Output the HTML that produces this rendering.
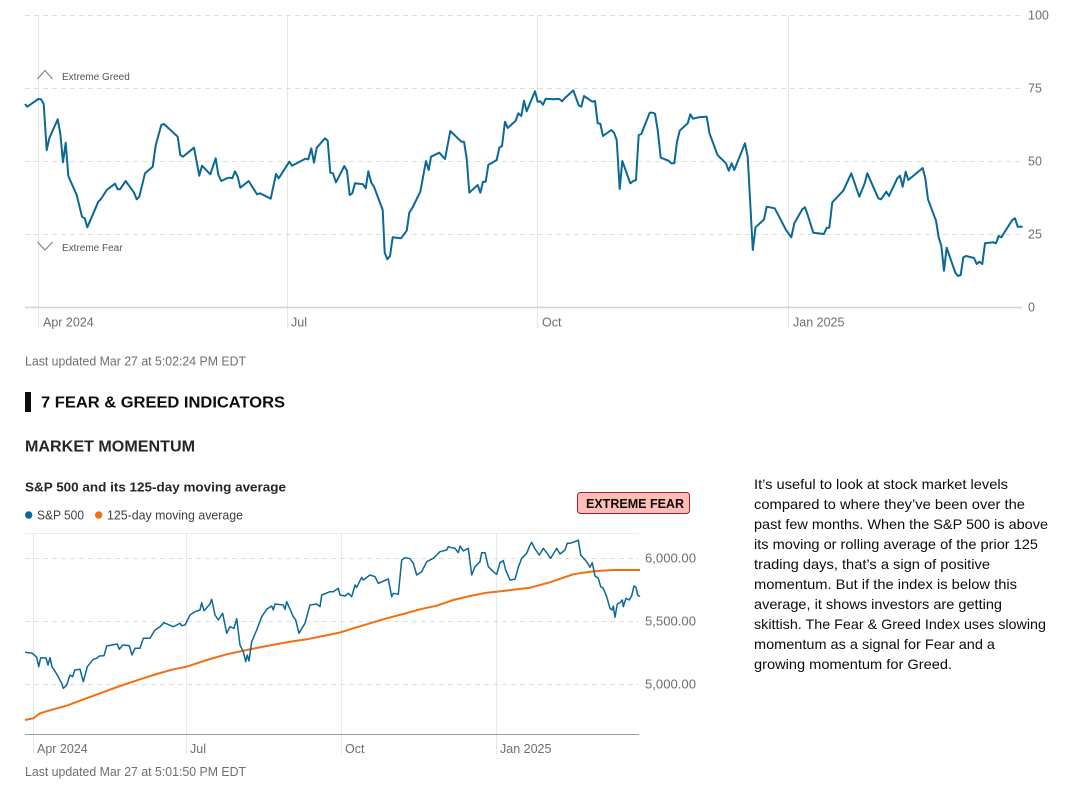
<!DOCTYPE html>
<html><head><meta charset="utf-8"><style>
html,body{margin:0;padding:0;background:#fff;}
body{width:1084px;height:798px;overflow:hidden;}
svg{display:block;font-family:"Liberation Sans",Arial,sans-serif;}
</style></head><body>
<svg width="1084" height="798" viewBox="0 0 1084 798" xmlns="http://www.w3.org/2000/svg">
<!-- TOP CHART -->
<g stroke="#e6e6e6" stroke-width="1" fill="none">
<line x1="38.5" y1="15" x2="38.5" y2="328"/>
<line x1="287.5" y1="15" x2="287.5" y2="328"/>
<line x1="537.5" y1="15" x2="537.5" y2="328"/>
<line x1="788.5" y1="15" x2="788.5" y2="328"/>
</g>
<g stroke="#dedede" stroke-width="1" stroke-dasharray="5,4" fill="none">
<line x1="25" y1="15.5" x2="1022" y2="15.5"/>
<line x1="25" y1="88.5" x2="1022" y2="88.5"/>
<line x1="25" y1="161.5" x2="1022" y2="161.5"/>
<line x1="25" y1="234.5" x2="1022" y2="234.5"/>
</g>
<line x1="25" y1="307.5" x2="1022" y2="307.5" stroke="#d2d2d2" stroke-width="1.5"/>
<g fill="#6e6e6e" font-size="12.5">
<text x="1028" y="19.5">100</text>
<text x="1028" y="92.5">75</text>
<text x="1028" y="165.5">50</text>
<text x="1028" y="238.5">25</text>
<text x="1028" y="311.5">0</text>
<text x="43" y="326.5">Apr 2024</text>
<text x="291" y="326.5">Jul</text>
<text x="542" y="326.5">Oct</text>
<text x="793" y="326.5">Jan 2025</text>
</g>
<polyline points="37.5,79 45,70.5 52.5,79" fill="none" stroke="#7a7a7a" stroke-width="1"/>
<polyline points="37.5,242 45,250 52.5,242" fill="none" stroke="#7a7a7a" stroke-width="1"/>
<text x="62" y="80" font-size="10" fill="#555">Extreme Greed</text>
<text x="62" y="251" font-size="10" fill="#555">Extreme Fear</text>
<polyline fill="none" stroke="#0b6897" stroke-width="2" stroke-linejoin="round" points="25,104 27.3,106.7 38.3,99 41,99.3 43.7,104 46.7,150 49.3,138.3 57.7,119.3 60.3,133.3 63,162.3 65.7,142.7 68.3,176 76.7,195 82,216.7 84.7,218.3 87.3,227.3 98.3,201.7 101,199 106.7,190 115,183.7 117.7,189.3 120,189.3 125.7,181 134,192.7 136.7,199.3 139.3,196.7 145,173.3 152.7,166.7 155.7,145.3 161.3,125 164,124 177.7,136.7 180.3,155 183,156.7 194,147.7 199.3,175.7 202,165.7 210.3,174.3 215.7,158.3 218.3,174.7 221.3,181 226.7,178.3 230,177.7 232.3,178.3 235,171.3 237.7,176.7 240.3,187.7 248.7,181 257,194.3 260,193.3 270.7,198.7 276,174 278.7,178.3 289.3,161.7 292,165.7 297.7,162.7 305.3,158.7 308.3,159.3 311.3,148.3 314,162.7 316.7,147.7 325,138.3 327.7,140.7 330.3,172.7 333,173.3 336,182.3 344.3,166 347,170.7 349.7,195 352.3,193.3 355,183.3 363,184.3 365.7,188.3 368.3,171.3 371.3,182.7 374,186.7 382.7,210 384.7,252.7 387.3,259.3 390,256 392.7,237.3 401,238.3 406.7,230.7 409.3,212.7 412.3,208 420.3,191.7 426,161 428.7,170 431,156.7 439.3,152.7 445,159 450.3,131 461.3,141.7 464,141.7 466.7,158.3 469.3,192.7 477.7,185 480.3,192.7 483,181.7 485.7,181.7 488.3,165 496.7,160 499.3,147.7 502,146 505,121.7 507.7,128 515.7,120.7 518.3,113.3 521.3,116 524,100.7 526.7,111.3 535,91.3 537.7,101.7 540.3,101.3 543,104.7 545.7,98.7 554,99.3 556.7,99 559.3,99 562,101.3 565,98 573.3,90.3 578.7,105.3 581.3,106.7 584,96 592.3,101.7 595,101 597.7,123.3 600.3,123.7 603,136 611.3,130 614,132.7 616.7,140 619.7,189 622.3,161 630.3,183.3 633.3,181 636,180 638.7,135 641.3,134 649.7,112.7 652.3,112.7 655,113.7 657.7,130 660.7,157.7 668.7,160.7 671.3,163.3 674.3,163.3 677,141.7 679.7,130.7 687.7,123.3 690.3,114.3 693,118.7 698.7,117.3 706.7,116.7 709.5,133.3 717.5,155 726,163.3 728.7,170.7 731.7,163.3 734.3,170 745,143.3 747.7,156.7 752.8,250 755.5,227.3 764,219.5 766.7,206.7 774.7,208.3 780,218.3 786,230 791.3,237.3 794.3,223.3 802.3,209.3 805,207.3 807.7,215 813.3,232.7 824,234 826.7,227.7 829.3,227.7 832.3,202.3 843.3,190.7 851.3,173.3 859.3,196.7 864.7,183.3 867.3,173.3 878.3,198.3 881,199.3 886.3,191.7 889,196 897.3,178.3 900,175.7 902.7,186.7 905.7,171.7 908.3,180 922.7,168 925.3,178.3 928,199.3 936,220.7 938.7,237.3 941.3,245.7 944,270.7 946.7,247.7 955.3,272.7 958,276 960.7,275 963.3,257.3 966,256 974,258 976.7,264 979.3,261.7 982.3,264 985,243.3 993.3,242.3 996,243.3 998.7,236 1001.3,237.3 1012.3,220 1015,218.3 1017.7,226.7 1022.7,226.7"/>

<!-- TEXT SECTION -->
<text x="25" y="365.5" font-size="12.5" fill="#6e6e6e" textLength="221" lengthAdjust="spacingAndGlyphs">Last updated Mar 27 at 5:02:24 PM EDT</text>
<rect x="25" y="392" width="6" height="20" fill="#0c0c0c"/>
<text x="41" y="407.5" font-size="16" font-weight="bold" fill="#0c0c0c" textLength="244" lengthAdjust="spacingAndGlyphs">7 FEAR &amp; GREED INDICATORS</text>
<text x="25" y="451.3" font-size="15.5" font-weight="bold" fill="#262626" textLength="170" lengthAdjust="spacingAndGlyphs">MARKET MOMENTUM</text>
<text x="25" y="491.5" font-size="13" font-weight="bold" fill="#262626" textLength="261" lengthAdjust="spacingAndGlyphs">S&amp;P 500 and its 125-day moving average</text>
<circle cx="28.7" cy="515" r="3.7" fill="#0b6897"/>
<text x="37" y="519.5" font-size="13" fill="#404040" textLength="47" lengthAdjust="spacingAndGlyphs">S&amp;P 500</text>
<circle cx="98.7" cy="515" r="3.7" fill="#f2700f"/>
<text x="107" y="519.5" font-size="13" fill="#404040" textLength="136" lengthAdjust="spacingAndGlyphs">125-day moving average</text>
<rect x="577.5" y="492.5" width="112" height="21" rx="3" fill="#ffbdb4" stroke="#a8173a" stroke-width="1"/>
<text x="586" y="508" font-size="13" font-weight="bold" fill="#0c0c0c" textLength="98" lengthAdjust="spacingAndGlyphs">EXTREME FEAR</text>

<!-- BOTTOM CHART -->
<g stroke="#e8e8e8" stroke-width="1" fill="none">
<line x1="33.5" y1="533" x2="33.5" y2="754"/>
<line x1="186.5" y1="533" x2="186.5" y2="754"/>
<line x1="341.5" y1="533" x2="341.5" y2="754"/>
<line x1="496.5" y1="533" x2="496.5" y2="754"/>
</g>
<line x1="25" y1="533.5" x2="639" y2="533.5" stroke="#ececec" stroke-width="1"/>
<g stroke="#dedede" stroke-width="1" stroke-dasharray="5,4" fill="none">
<line x1="25" y1="558.5" x2="639" y2="558.5"/>
<line x1="25" y1="621.5" x2="639" y2="621.5"/>
<line x1="25" y1="684.5" x2="639" y2="684.5"/>
</g>
<line x1="25" y1="734.5" x2="639" y2="734.5" stroke="#9a9a9a" stroke-width="1"/>
<g fill="#6e6e6e" font-size="12.5">
<text x="645" y="562.5" textLength="51" lengthAdjust="spacingAndGlyphs">6,000.00</text>
<text x="645" y="625.5" textLength="51" lengthAdjust="spacingAndGlyphs">5,500.00</text>
<text x="645" y="688.5" textLength="51" lengthAdjust="spacingAndGlyphs">5,000.00</text>
<text x="37" y="753">Apr 2024</text>
<text x="190" y="753">Jul</text>
<text x="345" y="753">Oct</text>
<text x="500" y="753">Jan 2025</text>
</g>
<polyline fill="none" stroke="#f2700f" stroke-width="2" stroke-linejoin="round" points="25,720 33.3,718.3 40,713.3 53.3,709.3 66.7,705.7 80,700.7 100,693.3 120,686 140,679.3 156.7,674 173.3,669.3 186.7,666.7 206.7,660 226.7,654.3 246.7,650 266.7,646 286.7,642.3 306.7,639.3 323.3,636 340,632.5 353.3,628.3 370,623.3 386.7,618.3 403.3,614 420,609.3 436.7,605.7 453.3,600 470,596 486.7,592.7 503.3,591 530,587.7 550,582.3 563.3,577.7 573.3,574.3 583.3,572.7 596.7,571 613.3,570 640,570"/>
<polyline fill="none" stroke="#0b6897" stroke-width="1.5" stroke-linejoin="round" points="25,652.3 32.3,653.3 34.3,655 36.7,657.3 38.7,666.7 40.7,657.7 46,658 48,665 50,657.7 52,666.7 56.7,674 61.7,683.3 63.3,688.3 66.7,685 70,675 72.7,676.7 74.7,670 80,669.3 83.3,681.7 87.3,666.7 93.3,659.3 96.7,658.3 99.3,656 104,655.7 106.7,646 111.7,645 117.3,644 119.3,649.3 122.7,645 129.3,645.7 132,655 135,648.3 140,648.3 143.3,638.3 150,638.3 155,630 160,626.7 164,622.7 173.3,626.7 176.7,625 180,623.3 181.7,625.7 185,625 190,615 195,611.7 200,610 201.7,602.7 204,610.7 210,604 211.7,599.3 215,615 218.3,620 222.7,613.3 226.7,633.3 230,626.7 234,628.3 236.7,618.7 240,645 243.3,651.7 245.7,661.7 247.3,655 249,661 251.7,641.7 256.7,630 261.7,616.7 266.7,609.3 271.7,606 273.3,610 275,604 283.3,605 285,609.3 286.7,601.7 293.3,616.7 295.7,620 299,633.3 305,623.3 310,605 316.7,604 320,606.7 321.7,595 330,591.7 333.3,591.7 338.3,588.3 340,595 345,596 348.3,593.3 351.7,596.7 355,585 356.7,587.3 361.7,577.3 363.3,580 370,575 375,576.7 378.3,583.3 388.3,579 391.7,596.7 393.3,593.3 398.3,594.3 401.7,560 405,557.7 410,558.7 413.3,563.3 416.7,575 421.7,571.7 426.7,561.7 433.3,558.3 436.7,555 440,551.7 446.7,550 448.3,546.7 451.7,547.7 455,548.3 458.3,552.7 460,546 463.3,551 468.3,548.3 471.7,575 475,566.7 480,561.7 481.7,552.7 485,552.7 488.3,566.7 493.3,571.7 496.7,574.3 500,562.7 503.3,560.7 505.7,570 510,580 515,579.3 518.3,567.3 521.7,558.3 526.7,553.3 529.3,546.7 531.7,542.3 535,549 539.3,555 543.3,548.3 546.7,552.7 550.7,558.3 556.7,548.3 560,554 565,550 567.3,543.3 570,543.3 576.7,541 578.3,540 580.7,555 586.7,561.7 590,567.3 592.3,562.7 595,576 598.3,578.3 600.7,586.7 603.3,588.3 606.7,596.7 610,608.3 612,610 613.3,606 615,617.3 617.3,604 620,602.7 622.3,600 623.3,606.7 626,598.3 629.3,600 631.7,595.7 634,586 636,587.3 637.7,595 640,596.7"/>
<text x="25" y="776" font-size="12.5" fill="#6e6e6e" textLength="221" lengthAdjust="spacingAndGlyphs">Last updated Mar 27 at 5:01:50 PM EDT</text>

<!-- PARAGRAPH -->
<g font-size="14" fill="#0c0c0c">
<text x="754" y="489" textLength="254" lengthAdjust="spacingAndGlyphs">It’s useful to look at stock market levels</text>
<text x="754" y="509" textLength="271" lengthAdjust="spacingAndGlyphs">compared to where they’ve been over the</text>
<text x="754" y="529" textLength="294" lengthAdjust="spacingAndGlyphs">past few months. When the S&amp;P 500 is above</text>
<text x="754" y="549" textLength="284" lengthAdjust="spacingAndGlyphs">its moving or rolling average of the prior 125</text>
<text x="754" y="569" textLength="236" lengthAdjust="spacingAndGlyphs">trading days, that’s a sign of positive</text>
<text x="754" y="589" textLength="263" lengthAdjust="spacingAndGlyphs">momentum. But if the index is below this</text>
<text x="754" y="609" textLength="248" lengthAdjust="spacingAndGlyphs">average, it shows investors are getting</text>
<text x="754" y="629" textLength="292" lengthAdjust="spacingAndGlyphs">skittish. The Fear &amp; Greed Index uses slowing</text>
<text x="754" y="649" textLength="241" lengthAdjust="spacingAndGlyphs">momentum as a signal for Fear and a</text>
<text x="754" y="669" textLength="198" lengthAdjust="spacingAndGlyphs">growing momentum for Greed.</text>
</g>
</svg>
</body></html>
